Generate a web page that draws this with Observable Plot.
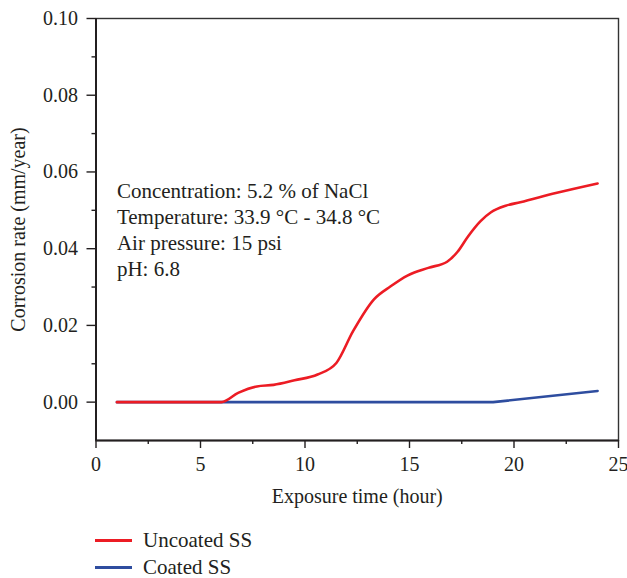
<!DOCTYPE html>
<html>
<head>
<meta charset="utf-8">
<script src="https://cdn.jsdelivr.net/npm/d3@7"></script>
<script src="https://cdn.jsdelivr.net/npm/@observablehq/plot@0.6"></script>
<style>
  body { margin: 0; background: #fff; font-family: "Liberation Serif", serif; color: #231f20; }
  #chart { position: relative; width: 627px; height: 578px; }
  .legend { position: absolute; left: 95px; font-size: 21px; line-height: 21px; }
  .legend .row { display: flex; align-items: center; height: 27px; }
  .legend .sw { width: 37px; height: 3px; margin-right: 11px; }
</style>
</head>
<body>
<div id="chart"></div>
<script>
// Uncoated SS (red) — hours / rate
const uncoatedHours = [1, 6, 6.8, 7.7, 8.5, 9.5, 10.6, 11.5, 12.3, 13.3, 14.1, 14.9, 15.9, 16.8, 17.3, 17.8, 18.4, 18.9, 19.6, 20.3, 22, 24];
const uncoatedRate  = [0, 0, 0.0024, 0.0041, 0.0045, 0.0057, 0.0072, 0.0102, 0.0185, 0.0268, 0.0302, 0.0330, 0.0350, 0.0366, 0.0392, 0.0432, 0.0472, 0.0495, 0.0512, 0.0521, 0.0545, 0.0570];
// Coated SS (blue)
const coatedHours = [1, 19, 24];
const coatedRate  = [0, 0, 0.0029];

const seriesNames = ["Uncoated SS", "Coated SS"];
const seriesColors = ["#ec1c24", "#2e4d9f"];

const xTicks = [0, 5, 10, 15, 20, 25];
const xMinorTicks = [2.5, 7.5, 12.5, 17.5, 22.5];
const yTicks = [0.00, 0.02, 0.04, 0.06, 0.08, 0.10];
const yMinorTicks = [0.01, 0.03, 0.05, 0.07, 0.09];

const notes = [
  "Concentration: 5.2 % of NaCl",
  "Temperature: 33.9 °C - 34.8 °C",
  "Air pressure: 15 psi",
  "pH: 6.8"
];

const uncoated = uncoatedHours.map((h, i) => ({hour: h, rate: uncoatedRate[i], series: seriesNames[0]}));
const coated = coatedHours.map((h, i) => ({hour: h, rate: coatedRate[i], series: seriesNames[1]}));

const ink = "#231f20";

const plot = Plot.plot({
  width: 627,
  height: 515,
  marginLeft: 95.5,
  marginRight: 9,
  marginTop: 18,
  marginBottom: 75,
  style: {fontFamily: "Liberation Serif, serif", fontSize: "21px", color: ink, background: "#fff"},
  x: {domain: [0, 25]},
  y: {domain: [-0.01, 0.10]},
  marks: [
    Plot.frame({stroke: "#333", strokeWidth: 1.4}),
    Plot.axisX(xTicks, {tickSize: 8, tickPadding: 8, fontSize: 20, label: "Exposure time (hour)", labelAnchor: "center", labelArrow: "none", labelOffset: 62, strokeWidth: 1.4}),
    Plot.axisX(xMinorTicks, {tickSize: 4, text: null, label: null, strokeWidth: 1.4}),
    Plot.axisY(yTicks, {tickSize: 9, tickPadding: 9, fontSize: 20, tickFormat: d3.format(".2f"), label: "Corrosion rate (mm/year)", labelAnchor: "center", labelArrow: "none", labelOffset: 85, strokeWidth: 1.4}),
    Plot.axisY(yMinorTicks, {tickSize: 4, text: null, label: null, strokeWidth: 1.4}),
    Plot.ruleX([0], {stroke: ink, strokeWidth: 2}),
    Plot.ruleY([-0.01], {stroke: ink, strokeWidth: 2}),
    Plot.line(coated, {x: "hour", y: "rate", stroke: seriesColors[1], strokeWidth: 2.6}),
    Plot.line(uncoated, {x: "hour", y: "rate", stroke: seriesColors[0], strokeWidth: 2.6, curve: "monotone-x"}),
    Plot.text([notes.join("\n")], {x: 1, y: 0.058, textAnchor: "start", lineAnchor: "top", lineHeight: 1.24, fontSize: 21, fill: ink})
  ]
});

const chart = document.getElementById("chart");
chart.appendChild(plot);

const legend = document.createElement("div");
legend.className = "legend";
legend.style.top = "527px";
seriesNames.forEach((name, i) => {
  const row = document.createElement("div");
  row.className = "row";
  const sw = document.createElement("div");
  sw.className = "sw";
  sw.style.background = seriesColors[i];
  const label = document.createElement("span");
  label.textContent = name;
  row.appendChild(sw);
  row.appendChild(label);
  legend.appendChild(row);
});
chart.appendChild(legend);
</script>
</body>
</html>
